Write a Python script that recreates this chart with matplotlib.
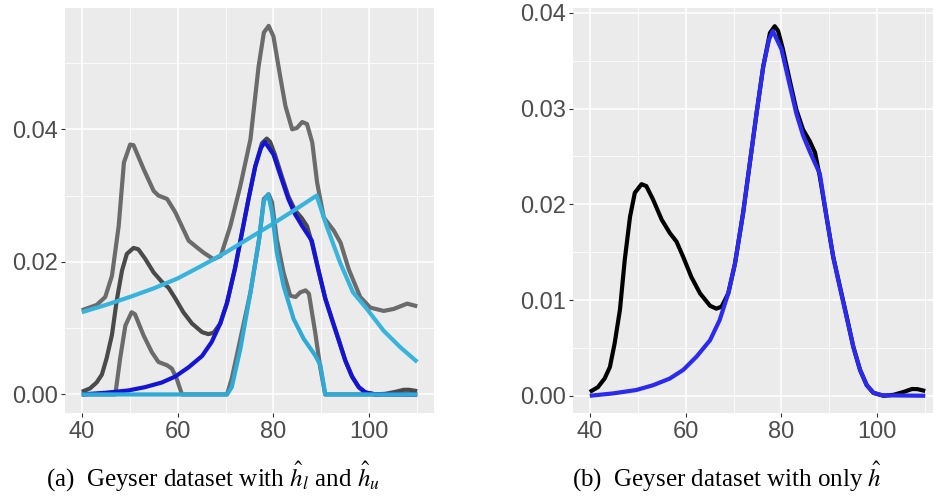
import matplotlib.pyplot as plt
from matplotlib.ticker import MultipleLocator, FormatStrFormatter

# Kernel density estimate of the waiting times (shared by both panels)
kde_x = [40, 41.7, 43.1, 44.2, 45.2, 46.3, 47.3, 48.4, 49.4, 50.8, 51.8, 53.2, 55, 56.7,
         58.1, 59.5, 61.2, 63, 65.1, 66.4, 67.5, 68.9, 70.3, 72, 73.4, 74.8, 76.2, 77.6,
         78.6, 79.3, 80.3, 81.7, 83.1, 84.5, 85.9, 87, 88, 89.4, 90.8, 92.2, 93.6, 95,
         96.4, 97.8, 99.2, 101.3, 103.4, 105.5, 107.2, 108.3, 110]
kde_y = [0.0004, 0.0009, 0.0018, 0.0030, 0.0055, 0.0090, 0.0142, 0.0187, 0.0212, 0.0221,
         0.0219, 0.0205, 0.0184, 0.0170, 0.0161, 0.0145, 0.0124, 0.0107, 0.0094, 0.0091,
         0.0093, 0.0107, 0.0138, 0.0191, 0.0243, 0.0295, 0.0344, 0.0379, 0.0386, 0.0381,
         0.0362, 0.0330, 0.0299, 0.0278, 0.0266, 0.0254, 0.0229, 0.0187, 0.0145, 0.0114,
         0.0083, 0.0051, 0.0027, 0.0011, 0.0003, 0.0, 0.0001, 0.0004, 0.0007, 0.0007, 0.0005]

# Fitted density h-hat
fit_x = [40, 44.9, 49.7, 53.2, 56.7, 59.5, 62.3, 65.1, 67.1, 68.9, 70.3, 72, 73.4, 74.8,
         76.2, 77.4, 78.2, 80, 81.7, 83.1, 84.5, 86, 88, 89.4, 90.8, 92.2, 93.6, 95, 96.4,
         97.8, 99.2, 101, 110]
fit_y = [0.0, 0.00025, 0.0006, 0.0011, 0.0018, 0.0027, 0.0041, 0.0058, 0.0079, 0.0107,
         0.0138, 0.0191, 0.0243, 0.0295, 0.0344, 0.0372, 0.0381, 0.0362, 0.0325, 0.0295,
         0.0272, 0.0254, 0.0232, 0.0187, 0.0145, 0.0113, 0.0082, 0.0051, 0.0027, 0.0011,
         0.0003, 0.00005, 0.0]

# Upper and lower bands around the estimate
upper_x = [40, 43.1, 44.9, 46.3, 47.7, 48.8, 50.1, 50.8, 52.9, 55, 56, 57.8, 59.5, 62.3,
           64, 65.4, 67.5, 69, 71, 73.1, 75.2, 76.9, 78, 79, 80, 81.4, 82.5, 83.9, 84.9,
           86, 87, 88.1, 89.1, 90.5, 92.6, 94, 95.7, 98.1, 100.2, 103, 105.1, 107.9, 110]
upper_y = [0.0127, 0.0135, 0.0147, 0.0179, 0.0254, 0.0350, 0.0377, 0.0376, 0.0340, 0.0307,
           0.0300, 0.0295, 0.0275, 0.0232, 0.0222, 0.0214, 0.0204, 0.0209, 0.0254, 0.0315,
           0.0385, 0.0495, 0.0546, 0.0556, 0.0540, 0.0480, 0.0435, 0.0400, 0.0402, 0.0411,
           0.0408, 0.0380, 0.0320, 0.0267, 0.0247, 0.0229, 0.0189, 0.0147, 0.0131, 0.0126,
           0.0129, 0.0137, 0.0133]

lower_x = [40, 47, 48, 49.1, 50.4, 51.1, 52.9, 54.6, 56, 57.8, 58.8, 59.8, 60.9, 70.3,
           71.3, 73.1, 75.2, 77, 78, 79, 79.7, 80.7, 82.1, 83.5, 84.6, 85.6, 86.7, 87.4,
           88.7, 89.8, 90.8, 110]
lower_y = [0.0, 0.0, 0.0054, 0.0104, 0.0124, 0.0121, 0.0089, 0.0064, 0.0049, 0.0044,
           0.0039, 0.0024, 0.0, 0.0, 0.0024, 0.0084, 0.0154, 0.0234, 0.0295, 0.0302,
           0.0290, 0.0234, 0.0184, 0.0149, 0.0147, 0.0154, 0.0157, 0.0152, 0.0094, 0.0039,
           0.0, 0.0]

# Bounding functions h_l and h_u
hu_x = [40, 45, 50, 55, 60, 65, 70, 75, 80, 85, 89, 91.1, 93.9, 96.6, 99.6, 103, 106.5, 110]
hu_y = [0.0124, 0.0135, 0.0147, 0.0160, 0.0175, 0.0194, 0.0214, 0.0236, 0.0258, 0.0281,
        0.0300, 0.0254, 0.0199, 0.0154, 0.0128, 0.0096, 0.0071, 0.0049]

hl_x = [40, 70.3, 71.3, 73.1, 75.2, 77, 78, 78.9, 79.7, 80.7, 82.1, 84.2, 86.3, 88.7,
        89.8, 90.8, 110]
hl_y = [0.0, 0.0, 0.0011, 0.0069, 0.0154, 0.0234, 0.0292, 0.0302, 0.0275, 0.0214,
        0.0164, 0.0114, 0.0084, 0.0059, 0.0044, 0.0, 0.0]

plt.rcParams["font.family"] = "Liberation Sans"
plt.rcParams["mathtext.fontset"] = "stix"

W, H = 933, 498
fig = plt.figure(figsize=(W / 100, H / 100), dpi=100)
ax_a = fig.add_axes([65 / W, 85 / H, 369 / W, 405 / H])
ax_b = fig.add_axes([573 / W, 85 / H, 369 / W, 405 / H])


def ggplot_style(ax, ylim, ystep):
    ax.set_facecolor("#EBEBEB")
    for s in ax.spines.values():
        s.set_visible(False)
    ax.set_xlim(36.5, 113.5)
    ax.set_ylim(*ylim)
    ax.xaxis.set_major_locator(MultipleLocator(20))
    ax.xaxis.set_minor_locator(MultipleLocator(10))
    ax.yaxis.set_major_locator(MultipleLocator(ystep))
    ax.yaxis.set_minor_locator(MultipleLocator(ystep / 2))
    ax.yaxis.set_major_formatter(FormatStrFormatter("%.2f"))
    ax.grid(which="major", color="white", lw=1.1)
    ax.grid(which="minor", color="white", lw=0.55)
    ax.set_axisbelow(True)
    ax.tick_params(which="major", length=3, width=0.8, color="#333333",
                   labelsize=17, labelcolor="#4D4D4D")
    ax.tick_params(axis="x", pad=3)
    ax.tick_params(axis="y", pad=2)
    ax.tick_params(which="minor", length=0)


lw = 3.0
kw = dict(lw=lw, solid_joinstyle="round", solid_capstyle="butt")

# (a) estimate with bands and bounds
ggplot_style(ax_a, (-0.0028, 0.0583), 0.02)
ax_a.plot(upper_x, upper_y, color="#6b6b6b", **kw)
ax_a.plot(lower_x, lower_y, color="#6b6b6b", **kw)
ax_a.plot(kde_x, kde_y, color="#4a4a4a", **kw)
ax_a.plot(fit_x, fit_y, color="#1414d6", **kw)
ax_a.plot(hu_x, hu_y, color="#38b4dc", **kw)
ax_a.plot(hl_x, hl_y, color="#2eaad6", **kw)

# (b) estimate with the fitted density only
ggplot_style(ax_b, (-0.0018, 0.0405), 0.01)
ax_b.plot(kde_x, kde_y, color="black", **kw)
ax_b.plot(fit_x, fit_y, color="#2a2af0", **kw)

cap = dict(family="Liberation Serif", fontsize=18, ha="center", va="baseline")
fig.text(213 / W, 11 / H, r"(a)  Geyser dataset with $\hat{h}_l$ and $\hat{h}_u$", **cap)
fig.text(727 / W, 11 / H, r"(b)  Geyser dataset with only $\hat{h}$", **cap)

fig.savefig("out.png", dpi=100)
